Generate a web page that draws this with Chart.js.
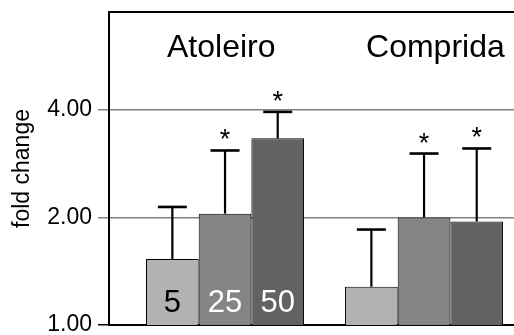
<!DOCTYPE html>
<html>
<head>
<meta charset="utf-8">
<script src="https://cdn.jsdelivr.net/npm/chart.js@4.4.1/dist/chart.umd.min.js"></script>
<style>
html, body { margin: 0; padding: 0; background: #fff; overflow: hidden; }
canvas { display: block; }
</style>
</head>
<body>
<canvas id="c" width="514" height="335"></canvas>
<script>
// Sampling sites (groups) and exposure doses (bars within a group)
const sites = ['Atoleiro', 'Comprida'];
const doses = ['5', '25', '50'];

// Mean fold change per dose, one value per site
const dose5 = [1.53, 1.28];
const dose25 = [2.05, 2.00];
const dose50 = [3.33, 1.95];

// Upper end of each error bar
const dose5Upper = [2.14, 1.85];
const dose25Upper = [3.08, 3.02];
const dose50Upper = [3.95, 3.12];

// Significance markers (*)
const dose5Sig = [false, false];
const dose25Sig = [true, true];
const dose50Sig = [true, true];

// Y axis tick values
const yTicks = [1, 2, 4];

const FONT = "'Liberation Sans', Arial, Helvetica, sans-serif";
const means = [dose5, dose25, dose50];
const uppers = [dose5Upper, dose25Upper, dose50Upper];
const sigs = [dose5Sig, dose25Sig, dose50Sig];
const fills = ['#b2b2b2', '#858585', '#626262'];
const doseTextColors = ['#000000', '#ffffff', '#ffffff'];

const datasets = doses.map((d, k) => ({
  label: d,
  data: means[k].map((v, i) => ({ x: i, y: v })),
  backgroundColor: fills[k],
  borderColor: '#000000',
  borderWidth: 1,
  xAxisID: 'x',
  yAxisID: 'y',
  categoryPercentage: 0.794,
  barPercentage: 1
}));

// Error bars, stars, dose numbers and site names
const annotate = {
  id: 'annotate',
  afterDatasetsDraw(chart) {
    const ctx = chart.ctx;
    const yScale = chart.scales.y;
    const area = chart.chartArea;
    ctx.save();

    doses.forEach((d, k) => {
      const meta = chart.getDatasetMeta(k);
      meta.data.forEach((bar, i) => {
        const capY = yScale.getPixelForValue(uppers[k][i]);
        ctx.strokeStyle = '#000000';
        ctx.lineWidth = 2.2;
        ctx.beginPath();
        ctx.moveTo(bar.x, bar.y);
        ctx.lineTo(bar.x, capY);
        ctx.stroke();
        ctx.lineWidth = 2.6;
        ctx.beginPath();
        ctx.moveTo(bar.x - 14.5, capY);
        ctx.lineTo(bar.x + 14.5, capY);
        ctx.stroke();
        if (sigs[k][i]) {
          ctx.fillStyle = '#000000';
          ctx.font = '27px ' + FONT;
          ctx.textAlign = 'center';
          ctx.textBaseline = 'alphabetic';
          ctx.fillText('*', bar.x, capY - 2);
        }
      });

      // dose number inside the bars of the first site
      const first = meta.data[0];
      ctx.fillStyle = doseTextColors[k];
      ctx.font = '31px ' + FONT;
      ctx.textAlign = 'center';
      ctx.textBaseline = 'alphabetic';
      ctx.fillText(d, first.x, area.bottom - 13);
    });

    // site names above each group
    const meta0 = chart.getDatasetMeta(0);
    sites.forEach((s, i) => {
      const bar = meta0.data[i];
      const left = bar.x - bar.width / 2;
      ctx.fillStyle = '#000000';
      ctx.font = '32px ' + FONT;
      ctx.textAlign = 'left';
      ctx.textBaseline = 'alphabetic';
      ctx.fillText(s, left + 21, area.top + 45);
    });

    ctx.restore();
  }
};

new Chart(document.getElementById('c'), {
  type: 'bar',
  data: { datasets },
  plugins: [annotate],
  options: {
    responsive: false,
    animation: false,
    events: [],
    layout: { padding: 0 },
    plugins: { legend: { display: false }, tooltip: { enabled: false } },
    scales: {
      x: {
        type: 'linear',
        position: 'bottom',
        min: -0.583,
        max: 1.452,
        offset: false,
        afterBuildTicks(s) { s.ticks = sites.map((_, i) => ({ value: i })); },
        afterFit(s) { s.height = 10; },
        ticks: { display: false },
        grid: { display: false, drawTicks: false, offset: false },
        border: { display: true, color: '#000000', width: 2 }
      },
      xTop: {
        type: 'linear',
        position: 'top',
        afterFit(s) { s.height = 12; },
        ticks: { display: false },
        grid: { display: false, drawTicks: false },
        border: { display: true, color: '#000000', width: 2 }
      },
      y: {
        type: 'logarithmic',
        min: 1,
        max: 7.52,
        afterBuildTicks(s) { s.ticks = yTicks.map(v => ({ value: v })); },
        afterFit(s) { s.width = 109; s.paddingTop = 0; s.paddingBottom = 0; },
        ticks: {
          callback: v => Number(v).toFixed(2),
          color: '#000000',
          font: { family: FONT, size: 23 },
          padding: 6
        },
        grid: {
          color: c => (c.tick && c.tick.value === 1) ? 'rgba(0,0,0,0)' : '#808080',
          lineWidth: 1.5,
          tickLength: 11,
          tickColor: c => (c.tick && c.tick.value === 1) ? '#000000' : '#808080',
          tickWidth: 1.5
        },
        border: { color: '#000000', width: 2 },
        title: {
          display: true,
          text: 'fold change',
          color: '#000000',
          font: { family: FONT, size: 23 },
          padding: { top: 9, bottom: 0 }
        }
      }
    }
  }
});
</script>
</body>
</html>
